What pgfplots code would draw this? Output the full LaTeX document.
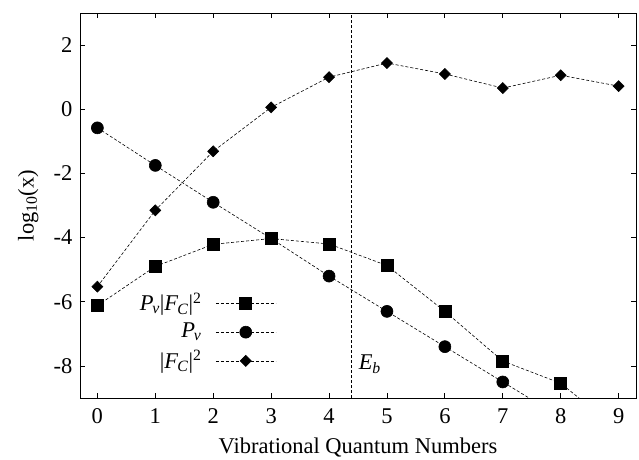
\documentclass[border=0pt]{standalone}
\usepackage{pgfplots}
\pgfplotsset{compat=1.18}
\usepackage{fontspec}
\setmainfont{Liberation Serif}
\newcommand{\Pv}{\textit{P}\textsubscript{\kern-0.08em\textit{v}}}
\newcommand{\FC}{|\textit{F}\textsubscript{\kern-0.05em\textit{C}}|\textsuperscript{2}}
\begin{document}
\fontsize{22.5}{27}\selectfont
\begin{tikzpicture}
\useasboundingbox (-80pt,-61pt) rectangle (559pt,398pt);
\begin{axis}[
  at={(0pt,0pt)}, anchor=south west,
  width=556pt, height=385pt, scale only axis,
  xmin=-0.3, xmax=9.3, ymin=-9, ymax=3,
  xtick={0,1,...,9}, ytick={-8,-6,...,2},
  tick align=inside, major tick length=5pt,
  axis line style={line width=0.9pt},
  every tick/.style={line width=0.8pt, black},
  /pgf/number format/assume math mode=true,
  xticklabel style={yshift=-3pt},
  xlabel={Vibrational Quantum Numbers},
  ylabel={log\textsubscript{10}(x)},
  xlabel style={yshift=1pt},
  ylabel style={yshift=0pt},
  legend plot pos=right,
  legend cell align=right,
  legend style={draw=none, fill=none, at={(rel axis cs:0.353,0.171)}, anchor=east, row sep=5pt, column sep=12pt, inner sep=0pt},
  legend image code/.code={\draw[mark repeat=2,mark phase=2,#1] plot coordinates {(0pt,0pt) (30pt,0pt) (60pt,0pt)};},
]
\addplot[black, line width=0.6pt, dash pattern=on 3pt off 2pt, mark=square*, mark size=6pt, mark options={solid}] coordinates {
(0,-6.12) (1,-4.90) (2,-4.21) (3,-4.03) (4,-4.20) (5,-4.87) (6,-6.30) (7,-7.85) (8,-8.54) (9,-10.0)};
\addlegendentry{\Pv\FC}
\addplot[black, line width=0.6pt, dash pattern=on 3pt off 2pt, mark=*, mark size=6pt, mark options={solid}] coordinates {
(0,-0.58) (1,-1.75) (2,-2.90) (3,-4.03) (4,-5.20) (5,-6.30) (6,-7.40) (7,-8.50) (8,-9.60) (9,-10.7)};
\addlegendentry{\Pv}
\addplot[black, line width=0.6pt, dash pattern=on 3pt off 2pt, mark=square*, mark size=3.9pt, mark options={solid, rotate=45}] coordinates {
(0,-5.53) (1,-3.15) (2,-1.31) (3,0.06) (4,1.00) (5,1.44) (6,1.10) (7,0.66) (8,1.06) (9,0.72)};
\addlegendentry{\FC}
\addplot[black, line width=0.6pt, dash pattern=on 3pt off 2pt, forget plot] coordinates {(4.38,-9) (4.38,3)};
\node[anchor=west] at (axis cs:4.38,-7.95) {\textit{E}\textsubscript{\textit{b}}};
\end{axis}
\end{tikzpicture}
\end{document}
